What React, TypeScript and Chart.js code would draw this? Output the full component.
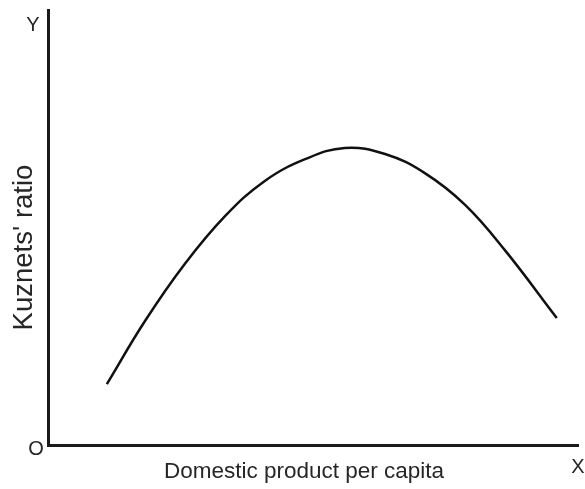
import React, { useEffect, useRef } from "react";
import { Chart, registerables } from "chart.js";

Chart.register(...registerables);

const incomeX = [11.1, 18.3, 25.8, 33.4, 40.9, 48.5, 56.0, 63.6, 71.1, 78.7, 86.2, 96.0];
const kuznetsY = [14.0, 28.5, 41.6, 52.6, 60.7, 65.7, 68.3, 66.9, 62.5, 55.2, 44.8, 29.2];
const xTitle = "Domestic product per capita";
const yTitle = "Kuznets' ratio";
const originLabel = "O";
const xAxisLabel = "X";
const yAxisLabel = "Y";

const FONT = "'Liberation Sans', Arial, Helvetica, sans-serif";
const TEXT = "#262626";

const labelsPlugin = {
  id: "axisLabels",
  afterDraw(chart: any) {
    const { ctx, chartArea } = chart;
    const { left, right, top, bottom } = chartArea;
    ctx.save();
    ctx.fillStyle = TEXT;
    ctx.textAlign = "center";
    ctx.textBaseline = "middle";
    ctx.font = `20px ${FONT}`;
    ctx.fillText(yAxisLabel, left - 15, top + 15);
    ctx.fillText(originLabel, left - 12, bottom + 4);
    ctx.fillText(xAxisLabel, right, bottom + 22);
    ctx.font = `22.5px ${FONT}`;
    ctx.fillText(xTitle, (left + right) / 2 - 9, bottom + 27);
    ctx.translate(left - 24, (top + bottom) / 2 + 20);
    ctx.rotate(-Math.PI / 2);
    ctx.font = `27.5px ${FONT}`;
    ctx.fillText(yTitle, 0, 0);
    ctx.restore();
  },
};

export default function App() {
  const ref = useRef<HTMLCanvasElement | null>(null);
  useEffect(() => {
    if (!ref.current) return;
    const chart = new Chart(ref.current, {
      type: "line",
      data: {
        datasets: [
          {
            data: incomeX.map((x, i) => ({ x, y: kuznetsY[i] })),
            borderColor: "#111",
            borderWidth: 2.5,
            pointRadius: 0,
            tension: 0.4,
            fill: false,
          },
        ],
      },
      options: {
        animation: false,
        responsive: false,
        layout: { padding: { left: 40, top: 10, right: 7, bottom: 36 } },
        plugins: { legend: { display: false }, tooltip: { enabled: false } },
        scales: {
          x: {
            type: "linear",
            min: 0,
            max: 100,
            ticks: { display: false },
            grid: { display: false },
            border: { color: "#1a1a1a", width: 3 },
          },
          y: {
            type: "linear",
            min: 0,
            max: 100,
            ticks: { display: false },
            grid: { display: false },
            border: { color: "#1a1a1a", width: 3 },
          },
        },
      },
      plugins: [labelsPlugin],
    });
    return () => chart.destroy();
  }, []);
  return (
    <div style={{ position: "absolute", left: 0, top: 0, width: 585, height: 489, background: "#fff" }}>
      <canvas ref={ref} width={585} height={489} />
    </div>
  );
}
